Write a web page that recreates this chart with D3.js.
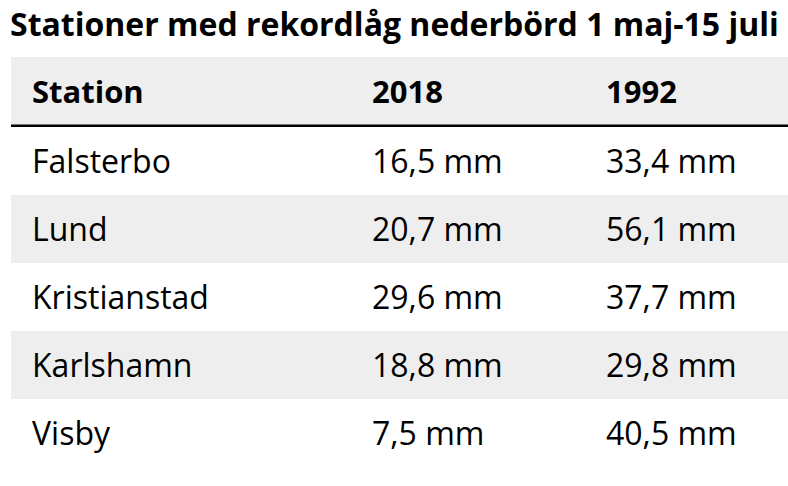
<!DOCTYPE html>
<html>
<head>
<meta charset="utf-8">
<script src="https://cdn.jsdelivr.net/npm/d3@7"></script>
<style>
  body { margin: 0; background: #fff; }
  svg text { font-family: "Open Sans", sans-serif; fill: #000; }
</style>
</head>
<body>
<script>
var title = "Stationer med rekordlåg nederbörd 1 maj-15 juli";
var columns = ["Station", "2018", "1992"];
var stations = ["Falsterbo", "Lund", "Kristianstad", "Karlshamn", "Visby"];
var values2018 = [16.5, 20.7, 29.6, 18.8, 7.5];
var values1992 = [33.4, 56.1, 37.7, 29.8, 40.5];

var width = 788, height = 486;
var left = 11, headTop = 57, rowH = 68, lineW = 2.5;
var colX = [32, 372, 606];
var fmt = function(v) { return d3.format(".1f")(v).replace(".", ",") + " mm"; };

var svg = d3.select("body").append("svg")
    .attr("width", width)
    .attr("height", height);

svg.append("text")
    .attr("x", 10)
    .attr("y", 36)
    .style("font-weight", "bold")
    .style("font-size", "32px")
    .text(title);

// header band
svg.append("rect")
    .attr("x", left).attr("y", headTop)
    .attr("width", width - left).attr("height", rowH)
    .attr("fill", "#eeeeee");
svg.selectAll(".head")
    .data(columns)
    .enter().append("text")
    .attr("class", "head")
    .attr("x", function(d, i) { return colX[i]; })
    .attr("y", headTop + rowH / 2 + 11.5)
    .style("font-weight", "bold")
    .style("font-size", "31px")
    .text(function(d) { return d; });
svg.append("rect")
    .attr("x", left).attr("y", headTop + rowH - 0.5)
    .attr("width", width - left).attr("height", lineW)
    .attr("fill", "#000");

var bodyTop = headTop + rowH + 2;
var y = d3.scaleBand()
    .domain(stations)
    .range([bodyTop, bodyTop + rowH * stations.length]);

var rows = svg.selectAll(".row")
    .data(stations)
    .enter().append("g")
    .attr("class", "row")
    .attr("transform", function(d) { return "translate(0," + y(d) + ")"; });

rows.append("rect")
    .attr("x", left)
    .attr("width", width - left)
    .attr("height", y.bandwidth())
    .attr("fill", function(d, i) { return i % 2 ? "#eeeeee" : "#ffffff"; });

rows.each(function(d, i) {
  var cells = [d, fmt(values2018[i]), fmt(values1992[i])];
  d3.select(this).selectAll("text")
      .data(cells)
      .enter().append("text")
      .attr("x", function(c, j) { return colX[j]; })
      .attr("y", y.bandwidth() / 2 + 12)
      .style("font-size", "32px")
      .text(function(c) { return c; });
});
</script>
</body>
</html>
